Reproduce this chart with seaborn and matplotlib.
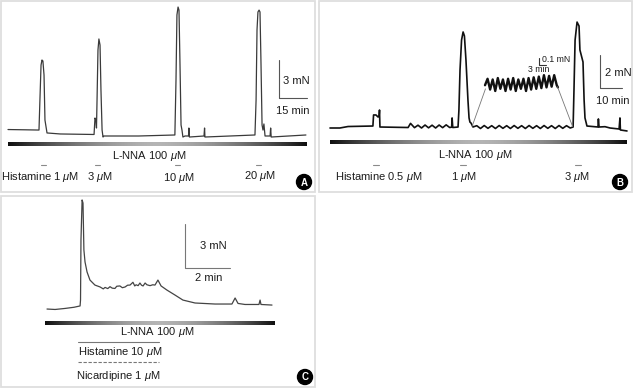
import numpy as np
import matplotlib
matplotlib.use("Agg")
import matplotlib.pyplot as plt
import seaborn as sns
from matplotlib.colors import LinearSegmentedColormap
from matplotlib.patches import Rectangle, Circle, ConnectionPatch

# ---- panel A : histamine 1-20 uM under L-NNA (time min, tension mN)
a_time = [0, 9, 16.6, 17.1, 17.7, 18.2, 18.7, 19.3, 19.8, 20.9, 28,
          46.1, 46.6, 47.1, 47.4, 47.7, 48.2, 48.7, 49.3, 49.8, 50.4, 50.9, 51.4, 70,
          89.4, 90.0, 90.5, 91.1, 91.6, 92.1, 92.7, 93.2, 93.7, 94.8,
          96.7, 96.9, 97.2, 105.0, 105.3, 105.5,
          132.3, 132.9, 133.4, 133.9, 134.5, 135.0, 135.5, 136.1, 136.6, 137.1, 137.7,
          140.4, 140.7, 141.0, 159.6]
a_force = [0.51, 0.49, 0.47, 2.84, 5.6, 6.0, 5.92, 4.81, 1.26, 0.24, 0.16,
           0.12, 1.42, 1.26, 0.63, 2.84, 6.79, 7.66, 7.18, 3.63, 0.47, -0.08, 0, 0,
           0.08, 4.42, 9.55, 10.18, 9.94, 6.0, 0.87, 0.47, -0.08, 0,
           0, 0.63, -0.08, 0, 0.63, -0.08,
           0.08, 2.84, 8.37, 9.79, 9.94, 9.79, 6.0, 0.87, 0.47, 0.95, 0,
           0, 0.63, -0.08, 0.08]
a_dose_time = [17.7, 46.6, 89.4, 132.9]
a_labels = ["Histamine 1 $\\mu$M", "3 $\\mu$M", "10 $\\mu$M", "20 $\\mu$M"]

# ---- panel B : histamine 0.5-3 uM
b_time = [0, 4.5, 8.2, 19.5, 19.8, 20.9, 21.8, 22.3, 22.5, 22.7, 35.5,
          36.6, 38.4, 40.0, 41.6, 43.2, 44.8, 46.4, 48.0, 49.6, 51.2, 52.8, 54.4,
          55.3, 55.5, 55.8, 57.5,
          58.2, 58.6, 59.1, 59.8, 60.5, 61.1, 61.8, 62.7, 63.2, 63.6, 64.1, 65.0,
          66.7, 68.4, 70.1, 71.8, 73.5, 75.2, 76.9, 78.6, 80.3, 82.0, 83.7, 85.4,
          87.1, 88.8, 90.5, 92.2, 93.9, 95.6, 97.3, 99.0, 100.7, 102.4, 104.1, 105.8,
          107.5, 109.2, 110.5,
          110.9, 111.4, 112.3, 113.2, 113.6, 115.0, 115.5, 115.9, 116.8,
          121.8, 122.0, 122.3, 125.0, 127.3, 131.4, 131.8, 132.0, 135.0]
b_force = [0, 0, 0.09, 0.12, 0.79, 0.79, 0.67, 0.70, 1.09, 0.06, 0.03,
           0.28, 0.02, 0.17, 0.0, 0.18, 0.01, 0.17, 0.0, 0.18, 0.02, 0.19, 0.03,
           0.05, 0.61, 0.03, 0.05,
           0.06, 1.09, 3.52, 5.33, 5.82, 5.58, 4.12, 1.70, 0.61, 0.36, 0.30, 0.06,
           0.14, -0.03, 0.15, -0.02, 0.14, -0.03, 0.15, -0.02, 0.14, -0.03, 0.15, -0.02,
           0.14, -0.03, 0.15, -0.02, 0.14, -0.03, 0.15, -0.02, 0.14, -0.03, 0.15, -0.02,
           0.14, 0.0, 0.06,
           2.30, 5.33, 6.42, 6.18, 4.73, 4.0, 1.70, 0.61, 0.12,
           0.06, 0.55, 0.06, 0.08, 0.0, -0.06, 0.61, -0.12, -0.18]
b_dose_time = [19.5, 59.1, 111.4]
b_labels = ["Histamine 0.5 $\\mu$M", "1 $\\mu$M", "3 $\\mu$M"]

# enlarged oscillation (inset of B)
ins_time = [0, 1.1, 2.2, 3.3, 4.4, 5.5, 6.6, 7.7, 8.8, 9.9, 11.0, 12.1, 13.2, 14.3,
            15.4, 16.5, 17.6, 18.7, 19.8, 20.9, 22.0, 23.1, 24.2, 25.3, 26.4, 27.5,
            28.6, 29.7, 30.8, 31.3]
ins_force = [0.08, 0.17, 0.02, 0.16, 0.0, 0.18, 0.03, 0.16, 0.0, 0.17, 0.02, 0.18,
             0.0, 0.16, 0.03, 0.17, 0.0, 0.18, 0.02, 0.19, 0.03, 0.20, 0.04, 0.22,
             0.05, 0.21, 0.06, 0.22, 0.08, 0.05]

# ---- panel C : histamine 10 uM + nicardipine 1 uM
c_time = [0, 0.36, 0.8, 1.2, 1.47, 1.49, 1.51, 1.56, 1.60, 1.64, 1.69, 1.78, 1.91,
          2.13, 2.36, 2.5, 2.58, 2.7, 2.8, 2.9, 3.02, 3.1, 3.24, 3.35, 3.47, 3.58,
          3.69, 3.82, 3.9, 3.96, 4.05, 4.13, 4.2, 4.27, 4.36, 4.44, 4.58, 4.7, 4.8,
          4.93, 5.07, 5.33, 5.69, 6.04, 6.58, 7.47, 8.22, 8.36, 8.49, 8.8, 9.42,
          9.47, 9.51, 10.0]
c_force = [-0.07, -0.1, -0.03, 0.05, 0.14, 0.54, 4.63, 7.35, 7.14, 3.95, 3.13, 2.45,
           1.90, 1.56, 1.43, 1.30, 1.40, 1.32, 1.45, 1.35, 1.33, 1.48, 1.50, 1.38,
           1.43, 1.55, 1.56, 1.75, 1.50, 1.58, 1.52, 1.70, 1.55, 1.50, 1.70, 1.58,
           1.52, 1.58, 1.56, 1.90, 1.50, 1.22, 0.88, 0.54, 0.34, 0.27, 0.27, 0.68,
           0.31, 0.24, 0.24, 0.54, 0.24, 0.20]
c_drug = [1.38, 4.98]

W, H = 635, 388
sns.set_style("white")
plt.rcParams["font.family"] = ["Liberation Sans", "DejaVu Sans"]
plt.rcParams["mathtext.fontset"] = "custom"
plt.rcParams["mathtext.it"] = "Liberation Sans:italic"
plt.rcParams["mathtext.rm"] = "Liberation Sans"

fig = plt.figure(figsize=(W / 100, H / 100), dpi=100)
fig.patch.set_facecolor("white")

ov = fig.add_axes([0, 0, 1, 1])
ov.axis("off")
TXT = "#1c1c1c"


def txt(x, y, s, size=8, ha="left", **kw):
    ov.text(x, y, s, fontsize=size, ha=ha, va="center", color=TXT, **kw)


def panel_ax(box, ox, oy, sx, sy):
    x0, y0, x1, y1 = box
    ax = fig.add_axes([x0 / W, 1 - y1 / H, (x1 - x0) / W, (y1 - y0) / H])
    ax.set_xlim((x0 - ox) / sx, (x1 - ox) / sx)
    ax.set_ylim((oy - y1) / sy, (oy - y0) / sy)
    ax.axis("off")
    ax.patch.set_alpha(0)
    # pixel -> data helpers for annotations
    ax.px = lambda x: (x - ox) / sx
    ax.py = lambda y: (oy - y) / sy
    return ax


bar_cmap = LinearSegmentedColormap.from_list("lnna", ["#b4b4b4", "#101010"])
grad = np.abs(np.linspace(-1, 1, 300)) ** 1.6


def lnna_bar(x0, x1, y):
    ov.imshow(grad[None, :], extent=(x0, x1, y + 1.8, y - 1.8), aspect="auto",
              cmap=bar_cmap, vmin=0, vmax=1, interpolation="bilinear")


def badge(x, y, letter):
    ov.add_patch(Circle((x, y), 7.5, color="black", zorder=5))
    ov.text(x, y + 0.5, letter, color="white", fontsize=7, fontweight="bold",
            ha="center", va="center", zorder=6)


def scalebar(ax, x, y, dt, df, color="#555555"):
    t0, f0 = ax.px(x), ax.py(y)
    ax.plot([t0, t0, t0 + dt], [f0 + df, f0, f0], color=color, lw=0.8)


# panel frames
for x0, y0, x1, y1 in [(1, 1, 315, 192), (319, 1, 632, 192), (1, 196, 315, 387)]:
    ov.add_patch(Rectangle((x0, y0), x1 - x0, y1 - y0, fill=False,
                           ec="#dedede", lw=1.3))

# ---------------- A
axA = panel_ax((1, 1, 315, 192), 8, 136, 28 / 15, 38 / 3)
sns.lineplot(x=a_time, y=a_force, ax=axA, sort=False, estimator=None,
             color="#3a3a3a", lw=0.9)
scalebar(axA, 279, 98, 15, 3)
yd = axA.py(165)
for t in a_dose_time:
    axA.plot([t, t + 2.8], [yd, yd], color="#8a8a8a", lw=0.8)
lnna_bar(8, 307, 144.5)
txt(149, 156, "L-NNA 100 $\\mu$M", ha="center")
for (x, y), s in zip([(1, 177), (87, 177), (163, 178), (244, 176)], a_labels):
    txt(x, y, s)
txt(283, 81, "3 mN")
txt(276, 111, "15 min")
badge(304, 182, "A")

# ---------------- B
axB = panel_ax((319, 1, 632, 192), 330, 128, 2.2, 16.5)
sns.lineplot(x=b_time, y=b_force, ax=axB, sort=False, estimator=None,
             color="#111111", lw=1.2)
scalebar(axB, 600, 88, 10, 2)
yd = axB.py(165)
for t in b_dose_time:
    axB.plot([t, t + 2.7], [yd, yd], color="#8a8a8a", lw=0.8)
lnna_bar(330, 627, 142.5)
txt(475, 155, "L-NNA 100 $\\mu$M", ha="center")
for (x, y), s in zip([(335, 177), (451, 177), (564, 177)], b_labels):
    txt(x, y, s)
txt(605, 73, "2 mN")
txt(596, 101, "10 min")
badge(620, 182, "B")

# inset of the oscillation
axI = panel_ax((470, 45, 580, 100), 485, 91, 2.33, 72)
sns.lineplot(x=ins_time, y=ins_force, ax=axI, sort=False, estimator=None,
             color="#111111", lw=1.7)
scalebar(axI, 539, 65, 3, 0.1, color="#333333")
txt(542, 60, "0.1 mN", size=6.3)
txt(528, 69, "3 min", size=6.3)
for (ti, fi), (tb, fb) in [((0.2, 0.03), (64.6, 0.1)), ((31.1, 0.06), (110.3, 0.08))]:
    fig.add_artist(ConnectionPatch((ti, fi), (tb, fb), coordsA=axI.transData,
                                   coordsB=axB.transData, color="#777777", lw=0.6))

# ---------------- C
axC = panel_ax((1, 196, 315, 387), 47, 308, 22.5, 14.7)
sns.lineplot(x=c_time, y=c_force, ax=axC, sort=False, estimator=None,
             color="#444444", lw=0.9)
scalebar(axC, 185, 268, 2, 3, color="#777777")
axC.plot(c_drug, [axC.py(342)] * 2, color="#777777", lw=0.8)
axC.plot(c_drug, [axC.py(362)] * 2, color="#777777", lw=0.8, ls=(0, (3, 1.5)))
lnna_bar(45, 275, 323)
txt(157, 332, "L-NNA 100 $\\mu$M", ha="center")
txt(120, 352, "Histamine 10 $\\mu$M", ha="center")
txt(118, 376, "Nicardipine 1 $\\mu$M", ha="center")
txt(200, 246, "3 mN")
txt(195, 278, "2 min")
badge(305, 377, "C")

ov.set_xlim(0, W)
ov.set_ylim(H, 0)

fig.savefig("out.png", dpi=100)
